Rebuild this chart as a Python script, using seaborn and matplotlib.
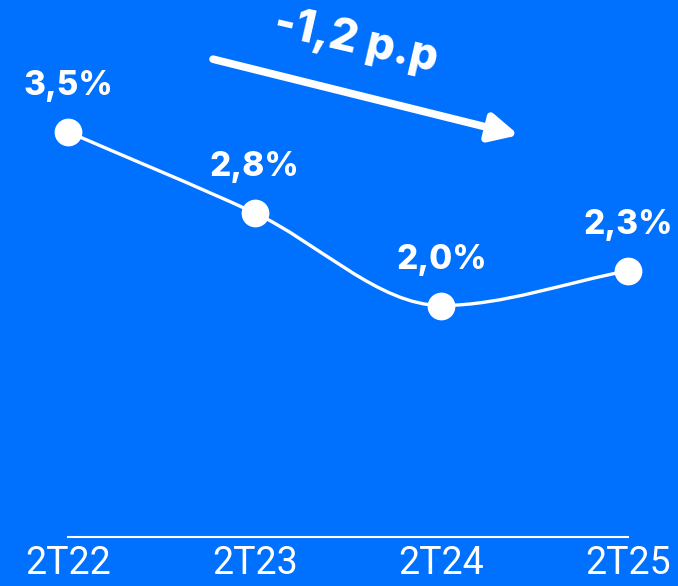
import seaborn as sns
import pandas as pd
import matplotlib.pyplot as plt
from matplotlib.path import Path
from matplotlib.patches import PathPatch

quarters = ['2T22', '2T23', '2T24', '2T25']
rates = [3.5, 2.8, 2.0, 2.3]
change_label = '-1,2 p.p'

bg = '#0070FF'

df = pd.DataFrame({'quarter': quarters, 'rate': rates})
df['x'] = range(len(df))

sns.set_theme(style='white')
plt.rcParams['font.family'] = ['Inter', 'DejaVu Sans']

fig = plt.figure(figsize=(6.78, 5.86), dpi=100, facecolor=bg)
ax = fig.add_axes([68 / 678, 49 / 586, 560 / 678, 463 / 586])
ax.set_facecolor(bg)

# smooth line: monotone cubic bezier through the points
xs = list(df['x'])
ys = list(df['rate'])
d = [(ys[i + 1] - ys[i]) / (xs[i + 1] - xs[i]) for i in range(len(xs) - 1)]
m = [d[0]]
for i in range(1, len(d)):
    if d[i - 1] * d[i] <= 0:
        m.append(0.0)
    else:
        m.append(2 / (1 / d[i - 1] + 1 / d[i]))
m.append(d[-1])
verts = [(xs[0], ys[0])]
codes = [Path.MOVETO]
for i in range(len(xs) - 1):
    h = xs[i + 1] - xs[i]
    verts += [(xs[i] + h / 3, ys[i] + m[i] * h / 3),
              (xs[i + 1] - h / 3, ys[i + 1] - m[i + 1] * h / 3),
              (xs[i + 1], ys[i + 1])]
    codes += [Path.CURVE4] * 3
ax.add_patch(PathPatch(Path(verts, codes), facecolor='none', edgecolor='white',
                       lw=2.4, zorder=2, clip_on=False))

sns.scatterplot(data=df, x='x', y='rate', ax=ax, s=400, color='white',
                edgecolor='white', linewidth=0, zorder=3, clip_on=False, legend=False)

for x, y in zip(xs, ys):
    ax.annotate(f'{y:.1f}%'.replace('.', ','), (x, y), xytext=(0, 33),
                textcoords='offset points', ha='center', va='center',
                color='white', fontsize=24, fontweight='heavy', annotation_clip=False)

ax.set_xlim(0, 3)
ax.set_ylim(0, 4)
ax.set_xticks(xs)
ax.set_xticklabels(quarters, fontsize=27, color='white', family=['Roboto', 'DejaVu Sans'])
ax.set_yticks([])
ax.tick_params(axis='x', length=0, pad=6)
ax.set_xlabel('')
ax.set_ylabel('')
for side in ['top', 'left', 'right']:
    ax.spines[side].set_visible(False)
ax.spines['bottom'].set_color('white')
ax.spines['bottom'].set_linewidth(1.5)

# trend arrow and label
ax.annotate('', xy=(0.805, 0.868), xytext=(0.259, 1.032), xycoords='axes fraction',
            arrowprops=dict(arrowstyle='-|>,head_length=1.4,head_width=0.7',
                            color='white', lw=5.5, shrinkA=0, shrinkB=0),
            annotation_clip=False)
ax.text(0.515, 1.07, change_label, transform=ax.transAxes, rotation=-13,
        rotation_mode='anchor', ha='center', va='center', color='white',
        fontsize=32, fontweight='heavy')

fig.savefig('out.png', dpi=100, facecolor=bg)
